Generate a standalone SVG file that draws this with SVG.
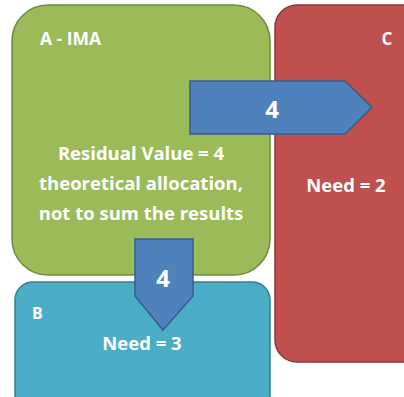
<svg xmlns="http://www.w3.org/2000/svg" width="404" height="397" viewBox="0 0 404 397">
<style>
text{font-family:"Open Sans","Liberation Sans",sans-serif;font-weight:bold;fill:#fff}
.c{text-anchor:middle}
.arr{fill:#4F81BD;stroke:#385D8A;stroke-width:1.5}
</style>
<rect width="404" height="397" fill="#fff"/>
<g id="C">
<rect x="275" y="5" width="150" height="357" rx="22" fill="#C0504D" stroke="#8C3836" stroke-width="1.5"/>
<text x="387" y="45" class="c" font-size="17">C</text>
<text x="346" y="192" class="c" font-size="18.5">Need = 2</text>
</g>
<g id="B">
<rect x="15" y="282" width="255" height="130" rx="18" fill="#4BACC6" stroke="#357D91" stroke-width="1.5"/>
<text x="32" y="319" font-size="16">B</text>
<text x="142" y="350" class="c" font-size="18.5">Need = 3</text>
</g>
<g id="A">
<rect x="12" y="5" width="258" height="270" rx="36" fill="#9BBB59" stroke="#71893F" stroke-width="1.5"/>
<text x="40" y="45" font-size="17.5">A - IMA</text>
<text x="141" y="160" class="c" font-size="18.5">Residual Value = 4</text>
<text x="141" y="190" class="c" font-size="18.5">theoretical allocation,</text>
<text x="141" y="220" class="c" font-size="18.5">not to sum the results</text>
</g>
<g id="connectors">
<path class="arr" d="M190,81 H345 L372,107 L345,134 H190 Z"/>
<text x="272" y="118" class="c" font-size="24">4</text>
<path class="arr" d="M135,239 H193 V296 L163,330 L135,296 Z"/>
<text x="163" y="287" class="c" font-size="24">4</text>
</g>
</svg>
